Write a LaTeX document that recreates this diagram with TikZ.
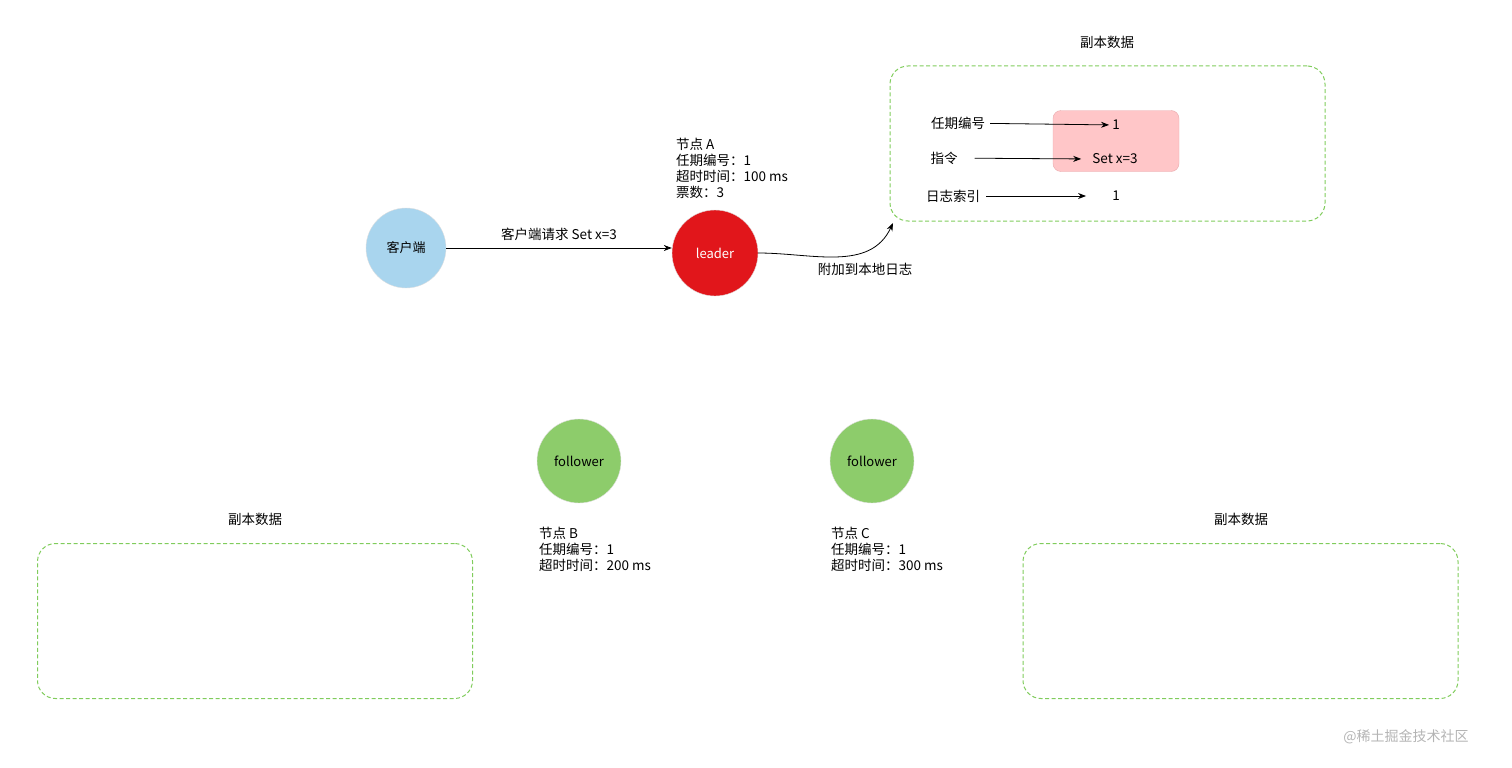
\documentclass[tikz,border=0pt]{standalone}
\usepackage{fontspec}
\setmainfont{Noto Sans CJK SC}
\usetikzlibrary{arrows.meta,positioning,calc}
\definecolor{ClientBlue}{HTML}{A9D5EE}
\definecolor{LeaderRed}{HTML}{E1161B}
\definecolor{FollowerGreen}{HTML}{8DCC6B}
\definecolor{ReplicaGreen}{HTML}{80CC5C}
\definecolor{EntryPink}{HTML}{FFC6C8}
\definecolor{EntryEdge}{HTML}{E8A9AC}
\definecolor{MarkGray}{HTML}{B4B4B4}
\tikzset{
    % Round server nodes
    server/.style={
        circle,
        draw=black!12,
        thin,
        inner sep=0pt,
        minimum size=84pt,
        font=\fontsize{13}{15}\selectfont
    },
    client/.style={
        server,
        minimum size=80pt,
        fill=ClientBlue,
        text=black
    },
    leader/.style={
        server,
        minimum size=86pt,
        fill=LeaderRed,
        text=white
    },
    follower/.style={
        server,
        fill=FollowerGreen,
        text=black
    },
    % Dashed replica boxes
    replica box/.style={
        rectangle,
        rounded corners=18pt,
        draw=ReplicaGreen,
        line width=1pt,
        dash pattern=on 4pt off 2.5pt,
        minimum width=435pt,
        minimum height=155pt
    },
    entry box/.style={
        rectangle,
        rounded corners=8pt,
        draw=EntryEdge,
        fill=EntryPink,
        minimum width=126pt,
        minimum height=61pt
    },
    plain/.style={
        inner sep=1pt,
        font=\fontsize{13.5}{16}\selectfont
    },
    info/.style={
        plain,
        anchor=north west,
        align=left
    },
    arrow/.style={
        -{Stealth[length=8pt,width=6pt]},
        thick,
        color=black
    }
}
\begin{document}
\begin{tikzpicture}[x=1pt,y=-1pt]
        \useasboundingbox (0,0) rectangle (1512,768);

        % Servers
        \node[client] (client) at (406,248) {客户端};
        \node[leader] (leader) at (715,253) {leader};
        \node[follower] (nodeB) at (579,461) {follower};
        \node[follower] (nodeC) at (872,461) {follower};

        % Server state
        \node[info] (infoA) at (675,137) {节点 \textit{A}\\任期编号：1\\超时时间：100 ms\\票数：3};
        \node[info] (infoB) at (538,526) {节点 B\\任期编号：1\\超时时间：200 ms};
        \node[info] (infoC) at (830,526) {节点 \textit{C}\\任期编号：1\\超时时间：300 ms};

        % Replica boxes
        \node[replica box] (logA) at (1107.5,143.5) {};
        \node[replica box] (logB) at (255,621) {};
        \node[replica box] (logC) at (1240.5,621) {};
        \node[plain] at (1107,42) {副本数据};
        \node[plain] at (255,519) {副本数据};
        \node[plain] at (1241,519) {副本数据};

        % Log entry of leader
        \node[entry box] (entry) at (1116,141) {};
        \node[plain] (termkey) at (958,123) {任期编号};
        \node[plain] (term) at (1116,125) {1};
        \node[plain] (cmdkey) at (944,158) {指令};
        \node[plain] (cmd) at (1115,159) {Set x=3};
        \node[plain] (idxkey) at (953,196) {日志索引};
        \node[plain] (idx) at (1116,196) {1};

        \draw[arrow, shorten <=4pt, shorten >=2pt] (termkey) -- (term);
        \draw[arrow, shorten <=16pt, shorten >=10pt] (cmdkey) -- (cmd.west);
        \draw[arrow, shorten <=5pt, shorten >=25pt] (idxkey) -- (idx);

        % Request and append
        \draw[arrow] (client) -- node[plain, above=6pt] {客户端请求 Set x=3} (client -| leader.west);
        \coordinate (logA in) at (893,223);
        \draw[arrow] (leader.east) to[out=0, in=-115] (logA in);
        \node[plain] at (865,269) {附加到本地日志};

        % Watermark
        \node[plain, text=MarkGray, font=\fontsize{14}{16}\selectfont] at (1406,737) {@稀土掘金技术社区};
    \end{tikzpicture}
\end{document}
